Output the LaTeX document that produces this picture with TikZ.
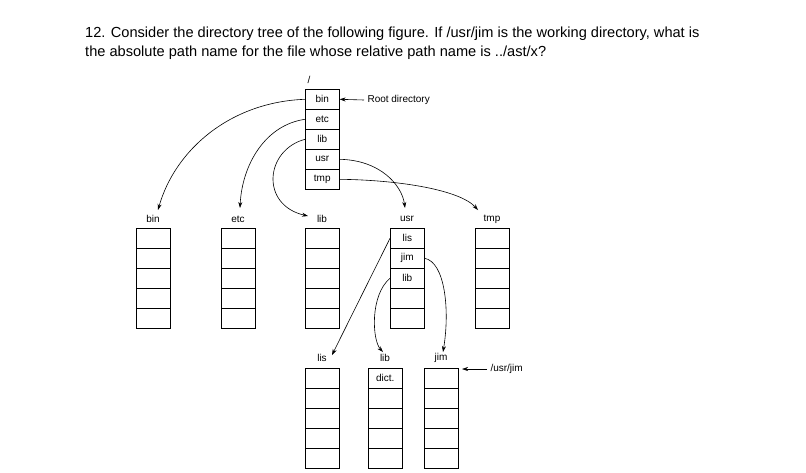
\documentclass[tikz,border=0pt]{standalone}
\usepackage{fontspec}
\setmainfont{Liberation Sans}
\usetikzlibrary{arrows.meta}
\begin{document}
\begin{tikzpicture}[x=1pt,y=-1pt,
  cell/.style={draw,semithick,minimum width=34pt,minimum height=20pt,inner sep=0pt,font=\fontsize{10}{11}\selectfont,anchor=north west},
  lbl/.style={font=\fontsize{10}{11}\selectfont},
  arr/.style={-{Stealth[length=6pt,width=4pt]},semithick}]
\useasboundingbox (0,0) rectangle (806,472);
\node[anchor=west,font=\fontsize{14.6}{19}\selectfont,align=left,inner sep=0pt] (q) at (85,43.5) {12. Consider the directory tree of the following figure. If /usr/jim is the working directory, what is\\the absolute path name for the file whose relative path name is ../ast/x?};
% root
\node[lbl] (slash) at (309,80) {/};
\foreach \t [count=\i] in {bin,etc,lib,usr,tmp}
  \node[cell] (r\i) at (305,{89+20*(\i-1)}) {\t};
\node[lbl,anchor=west] (rootlbl) at (364,100) {Root directory};
\draw[arr] (rootlbl.west) -- (r1.east);
% second row
\foreach \n/\x in {bin/136,etc/221,lib/305,usr/390,tmp/475}{
  \node[lbl] (l\n) at ({\x+17},219) {\n};
  \foreach \i in {1,...,5} \node[cell] (\n\i) at (\x,{228+20*(\i-1)}) {};
}
\node[lbl] at (usr1) {lis};
\node[lbl] at (usr2) {jim};
\node[lbl] at (usr3) {lib};
% third row
\foreach \n/\x/\t in {a/305/lis,b/368/lib,c/424/jim}{
  \node[lbl] (m\n) at ({\x+17},358) {\t};
  \foreach \i in {1,...,5} \node[cell] (\n\i) at (\x,{368+20*(\i-1)}) {};
}
\node[lbl] at (b1) {dict.};
\node[lbl,anchor=west] (uj) at (487,369) {/usr/jim};
\coordinate (ujend) at (462,369);
\draw[arr] (uj.west) -- (ujend);
% arrows
\draw[arr] (r1.west) .. controls (230,102) and (175,150) .. (158,210);
\draw[arr] (r2.west) .. controls (265,125) and (242,165) .. (240,208);
\draw[arr] (r3.west) .. controls (265,150) and (260,205) .. (308,216);
\draw[arr] (r4.east) .. controls (380,160) and (402,185) .. (405,208);
\draw[arr] (r5.east) .. controls (400,180) and (460,190) .. (478,210);
\draw[arr] (usr1.west) -- (332,355);
\draw[arr] (usr3.west) .. controls (370,295) and (372,340) .. (383,352);
\draw[arr] (usr2.east) .. controls (445,262) and (450,310) .. (443,352);
\end{tikzpicture}
\end{document}
